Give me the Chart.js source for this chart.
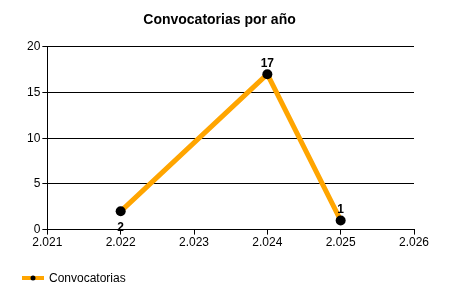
<!DOCTYPE html>
<html lang="es">
<head>
  <meta charset="UTF-8">
  <title>Convocatorias por año</title>
  <style>
    body { margin: 0; padding: 0; background: #fff; }
    .chart-box { width: 450px; height: 300px; }
    canvas { display: block; }
  </style>
</head>
<body>
  <div class="chart-box">
    <canvas id="chart" width="450" height="300"></canvas>
  </div>

  <script src="https://cdn.jsdelivr.net/npm/chart.js"></script>
  <script>
    // Datos del gráfico
    const years = [2022, 2024, 2025];
    const convocatorias = [2, 17, 1];
    const seriesName = 'Convocatorias';
    const chartTitle = 'Convocatorias por año';

    const FONT = 'Arial, "Liberation Sans", sans-serif';
    const ORANGE = '#FFA500';

    // Formato con punto como separador de miles (2.021, 2.022...)
    function fmtYear(v) {
      return String(v).replace(/\B(?=(\d{3})+(?!\d))/g, '.');
    }

    // Etiquetas de valor sobre los puntos
    const valueLabels = {
      id: 'valueLabels',
      afterDatasetsDraw(chart) {
        const c = chart.ctx;
        const meta = chart.getDatasetMeta(0);
        c.save();
        c.font = 'bold 12px ' + FONT;
        c.fillStyle = '#000';
        c.textAlign = 'center';
        c.textBaseline = 'middle';
        meta.data.forEach((pt, i) => {
          const v = chart.data.datasets[0].data[i].y;
          // el primer punto lleva la etiqueta debajo, los demás encima
          const dy = i === 0 ? 16 : -11;
          c.fillText(String(v), pt.x, pt.y + dy);
        });
        c.restore();
      }
    };

    // Leyenda abajo a la izquierda: línea con punto
    const bottomLegend = {
      id: 'bottomLegend',
      afterDraw(chart) {
        const c = chart.ctx;
        const y = 278;
        c.save();
        c.strokeStyle = ORANGE;
        c.lineWidth = 4;
        c.beginPath();
        c.moveTo(22, y);
        c.lineTo(44, y);
        c.stroke();
        c.fillStyle = '#000';
        c.beginPath();
        c.arc(33, y, 2.5, 0, Math.PI * 2);
        c.fill();
        c.font = '12px ' + FONT;
        c.textBaseline = 'middle';
        c.textAlign = 'left';
        c.fillText(seriesName, 49, y + 1);
        c.restore();
      }
    };

    const ctx = document.getElementById('chart').getContext('2d');
    new Chart(ctx, {
      type: 'line',
      data: {
        datasets: [{
          label: seriesName,
          data: years.map((x, i) => ({ x: x, y: convocatorias[i] })),
          borderColor: ORANGE,
          borderWidth: 5,
          pointBackgroundColor: '#000',
          pointBorderColor: '#000',
          pointRadius: 5,
          pointBorderWidth: 0,
          tension: 0,
          fill: false
        }]
      },
      options: {
        responsive: false,
        animation: false,
        layout: { padding: { left: 25, right: 36, top: 0, bottom: 49 } },
        plugins: {
          legend: { display: false },
          tooltip: { enabled: false },
          title: {
            display: true,
            text: chartTitle,
            color: '#000',
            font: { family: FONT, size: 14, weight: 'bold' },
            padding: { top: 12, bottom: 18 }
          }
        },
        scales: {
          x: {
            type: 'linear',
            min: 2021,
            max: 2026,
            ticks: {
              stepSize: 1,
              color: '#000',
              font: { family: FONT, size: 12 },
              padding: 1,
              maxRotation: 0,
              callback: v => fmtYear(v)
            },
            grid: { drawOnChartArea: false, drawTicks: true, tickLength: 5, color: '#000' },
            border: { display: true, color: '#000', width: 1 }
          },
          y: {
            min: 0,
            max: 20,
            ticks: {
              stepSize: 5,
              color: '#000',
              font: { family: FONT, size: 12 },
              padding: 2
            },
            grid: { color: '#000', lineWidth: 1, tickLength: 5 },
            border: { display: true, color: '#000', width: 1 }
          }
        }
      },
      plugins: [valueLabels, bottomLegend]
    });
  </script>
</body>
</html>
